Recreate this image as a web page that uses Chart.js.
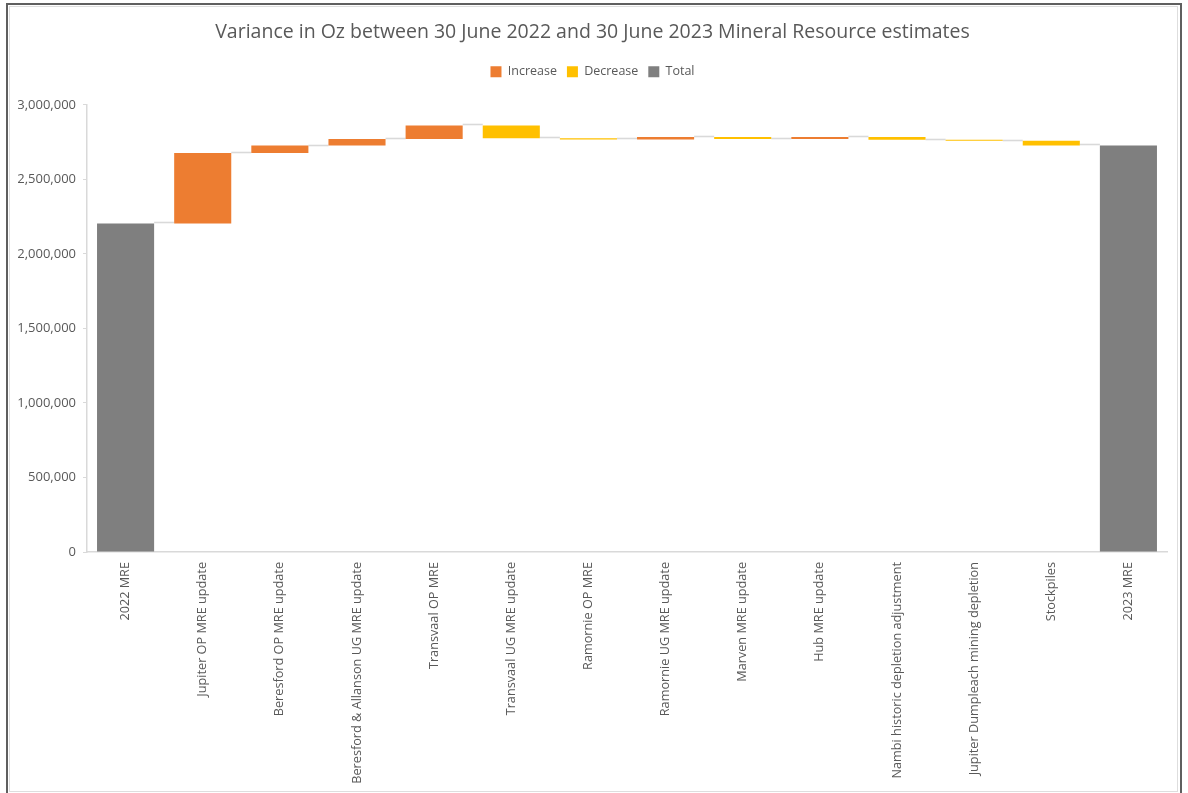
<!DOCTYPE html>
<html>
<head>
<meta charset="utf-8">
<title>Variance in Oz</title>
<script src="https://cdn.jsdelivr.net/npm/chart.js@4/dist/chart.umd.min.js"></script>
<style>
  html, body { margin: 0; padding: 0; background: #ffffff; }
  body { width: 1188px; height: 793px; position: relative; overflow: hidden; }
  #frame-outer {
    position: absolute; left: 6px; top: 3px; width: 1172px; height: 820px;
    border: 2px solid #5f5f5f; border-bottom: none; pointer-events: none;
  }
  #frame-inner {
    position: absolute; left: 9px; top: 6px; width: 1167px; height: 784px;
    border: 1px solid #dedede; pointer-events: none;
  }
  #wrap { position: absolute; left: 0; top: 0; width: 1188px; height: 793px; }
</style>
</head>
<body>
<div id="wrap"><canvas id="chart"></canvas></div>
<div id="frame-inner"></div>
<div id="frame-outer"></div>
<script>
// Categories along the x axis
const categories = [
  '2022 MRE',
  'Jupiter OP MRE update',
  'Beresford OP MRE update',
  'Beresford & Allanson UG MRE update',
  'Transvaal OP MRE',
  'Transvaal UG MRE update',
  'Ramornie OP MRE',
  'Ramornie UG MRE update',
  'Marven MRE update',
  'Hub MRE update',
  'Nambi historic depletion adjustment',
  'Jupiter Dumpleach mining depletion',
  'Stockpiles',
  '2023 MRE'
];

// Opening and closing resource (oz)
const openingTotal = 2205000;
const closingTotal = 2728000;

// Change contributed by each item between the two totals (oz)
const changes = [472000, 50000, 45000, 90000, -86000, -8000, 17000, -13000, 13000, -19000, -6000, -32000];

// y axis ticks
const yTicks = [0, 500000, 1000000, 1500000, 2000000, 2500000, 3000000];

const seriesNames = ['Increase', 'Decrease', 'Total'];
const seriesColors = ['#ED7D31', '#FFC000', '#7F7F7F'];

// Build floating [start, end] ranges for the waterfall
const increaseData = new Array(categories.length).fill(null);
const decreaseData = new Array(categories.length).fill(null);
const totalData = new Array(categories.length).fill(null);
const levels = []; // running level after each category
totalData[0] = [0, openingTotal];
levels.push(openingTotal);
let running = openingTotal;
changes.forEach((c, k) => {
  const i = k + 1;
  const next = running + c;
  if (c >= 0) increaseData[i] = [running, next];
  else decreaseData[i] = [next, running];
  running = next;
  levels.push(running);
});
totalData[categories.length - 1] = [0, closingTotal];
levels.push(closingTotal);

// Thin grey connectors joining each step to the next
const connectorPlugin = {
  id: 'connectors',
  beforeDatasetsDraw(chart) {
    const y = chart.scales.y;
    const ctx = chart.ctx;
    const bars = [];
    chart.data.datasets.forEach((ds, d) => {
      const meta = chart.getDatasetMeta(d);
      ds.data.forEach((v, i) => { if (v) bars[i] = meta.data[i]; });
    });
    ctx.save();
    ctx.strokeStyle = '#d9d9d9';
    ctx.lineWidth = 1.6;
    for (let i = 0; i < categories.length - 1; i++) {
      const a = bars[i], b = bars[i + 1];
      if (!a || !b) continue;
      const py = Math.round(y.getPixelForValue(levels[i])) - 0.5;
      ctx.beginPath();
      ctx.moveTo(a.x + a.width / 2, py);
      ctx.lineTo(b.x - b.width / 2, py);
      ctx.stroke();
    }
    ctx.restore();
  }
};

// Empty layout box that leaves a gap between the legend and the plot
const legendGapPlugin = {
  id: 'legendGap',
  beforeInit(chart) {
    const box = {
      position: 'top', weight: 0, fullSize: true, options: {},
      top: 0, left: 0, right: 0, bottom: 0, width: 0, height: 0,
      isHorizontal() { return true; },
      update(maxWidth) { this.width = maxWidth; this.height = 17; },
      draw() {}
    };
    Chart.layouts.addBox(chart, box);
  }
};

Chart.defaults.font.family = "'Open Sans', sans-serif";
Chart.defaults.color = '#595959';

new Chart(document.getElementById('chart'), {
  type: 'bar',
  data: {
    labels: categories,
    datasets: [
      { label: seriesNames[0], data: increaseData, backgroundColor: seriesColors[0] },
      { label: seriesNames[1], data: decreaseData, backgroundColor: seriesColors[1] },
      { label: seriesNames[2], data: totalData, backgroundColor: seriesColors[2] }
    ]
  },
  options: {
    responsive: true,
    maintainAspectRatio: false,
    animation: false,
    layout: { padding: { left: 18, right: 21, top: 0, bottom: 0 } },
    datasets: { bar: { grouped: false, barPercentage: 0.74, categoryPercentage: 1.0, borderWidth: 0 } },
    plugins: {
      title: {
        display: true,
        text: 'Variance in Oz between 30 June 2022 and 30 June 2023 Mineral Resource estimates',
        color: '#595959',
        font: { size: 19.5, weight: 'normal' },
        padding: { top: 21, bottom: 11 }
      },
      legend: {
        display: true,
        position: 'top',
        labels: {
          boxWidth: 11, boxHeight: 11, padding: 10,
          color: '#595959',
          font: { size: 12.5 }
        }
      },
      tooltip: { enabled: false }
    },
    scales: {
      x: {
        grid: { display: true, drawOnChartArea: false, drawTicks: false, color: '#d9d9d9' },
        border: { display: true, color: '#d9d9d9', width: 1.5 },
        ticks: {
          autoSkip: false, maxRotation: 90, minRotation: 90, padding: 10,
          color: '#595959', font: { size: 12.7 }
        },
        afterFit(scale) { scale.height = 241; }
      },
      y: {
        min: 0, max: 3000000,
        afterBuildTicks(scale) { scale.ticks = yTicks.map(v => ({ value: v })); },
        grid: { display: true, drawOnChartArea: false, drawTicks: true, tickLength: 4, color: '#d9d9d9' },
        border: { display: true, color: '#d9d9d9', width: 1.5 },
        ticks: {
          padding: 7, color: '#595959', font: { size: 13 },
          callback: v => Number(v).toLocaleString('en-US')
        },
        afterFit(scale) { scale.width = 69; }
      }
    }
  },
  plugins: [connectorPlugin, legendGapPlugin]
});
</script>
</body>
</html>
